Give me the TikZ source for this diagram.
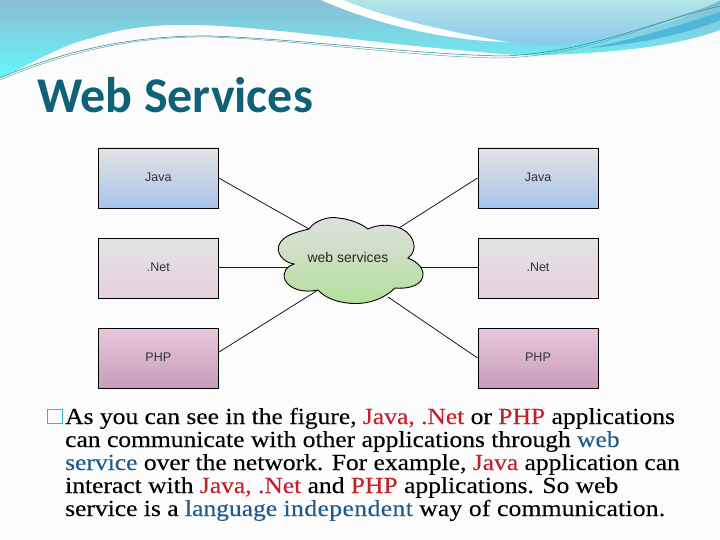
\documentclass[tikz,border=0pt]{standalone}
\usepackage{fontspec}
\usetikzlibrary{calc}
\setmainfont{Liberation Serif}
\newfontfamily\bodyfont[FakeStretch=1.11,FakeBold=0.2]{Liberation Serif}
\newfontfamily\titlefont{Carlito}
\newfontfamily\labelfont{Liberation Sans}
\definecolor{redt}{HTML}{C4202A}
\definecolor{bluet}{HTML}{1F5A8A}
\definecolor{titlec}{HTML}{0F6078}
\definecolor{edgec}{HTML}{1A1A1A}
\tikzset{
  boxbase/.style={draw=black,line width=0.9pt,minimum width=120pt,minimum height=60pt,inner sep=0pt,font=\labelfont\fontsize{12.5}{14}\selectfont,text=black!80},
  javabox/.style={boxbase,top color=gray!22,bottom color={rgb,255:red,168;green,196;blue,234}},
  netbox/.style={boxbase,top color={rgb,255:red,227;green,227;blue,228},bottom color={rgb,255:red,230;green,208;blue,223}},
  phpbox/.style={boxbase,top color={rgb,255:red,230;green,200;blue,218},bottom color={rgb,255:red,201;green,156;blue,187}},
  wire/.style={draw=edgec,line width=0.8pt},
  bodyline/.style={anchor=base west,inner sep=0pt,font=\bodyfont\fontsize{23}{23}\selectfont,text=black},
  thinline/.style={line width=0.5pt}
}
\newcommand{\rd}[1]{\textcolor{redt}{#1}}
\newcommand{\bl}[1]{\textcolor{bluet}{#1}}
\newcommand{\up}[1]{\raisebox{1pt}{#1}}
\begin{document}
\begin{tikzpicture}[x=1pt,y=-1pt]
\useasboundingbox (0,0) rectangle (720,540);
\fill[white!99!black] (0,0) rectangle (720,540);
% header swoosh
\shade[top color={rgb,255:red,139;green,189;blue,213},bottom color={rgb,255:red,102;green,248;blue,248}]
  (0,0) -- (0,78) .. controls (30,65) and (60,45) .. (92,38)
  .. controls (125,27) and (160,24) .. (200,25)
  .. controls (280,28) and (380,44) .. (459,50)
  .. controls (500,54) and (520,56) .. (542,55)
  .. controls (620,53) and (680,45) .. (720,30) -- (720,0) -- cycle;
\fill[white] (321,0) .. controls (370,22) and (440,40) .. (505,42)
  -- (542,45) .. controls (470,36) and (390,20) .. (344,0) -- cycle;
\shade[top color={rgb,255:red,178;green,230;blue,230},bottom color={rgb,255:red,136;green,198;blue,240}]
  (344,0) .. controls (390,20) and (470,36) .. (520,44)
  .. controls (570,48) and (650,38) .. (720,0) -- cycle;
\fill[color={rgb,255:red,80;green,182;blue,220}] (590,48) .. controls (640,38) and (690,22) .. (720,12)
  -- (720,20) .. controls (690,33) and (640,44) .. (590,48) -- cycle;
\draw[thinline,color={rgb,255:red,90;green,170;blue,175}] (0,80) .. controls (70,50) and (140,36) .. (211,37)
  .. controls (300,40) and (420,58) .. (505,58)
  .. controls (590,54) and (650,25) .. (720,3);
\draw[thinline,color={rgb,255:red,40;green,130;blue,150}] (0,78) .. controls (70,48) and (140,35) .. (211,36)
  .. controls (300,39) and (420,55) .. (505,56)
  .. controls (590,52) and (650,22) .. (720,6);
% title
\node[anchor=base west,inner sep=0pt,font=\titlefont\bfseries\fontsize{50}{50}\selectfont,text=titlec] (title) at (37,113) {Web Services};
% boxes
\node[javabox] (javaL) at (158.3,178) {\up{Java}};
\node[netbox]  (netL)  at (158.3,268) {\up{.Net}};
\node[phpbox]  (phpL)  at (158.3,358) {\up{PHP}};
\node[javabox] (javaR) at (538,178) {\up{Java}};
\node[netbox]  (netR)  at (538,268) {\up{.Net}};
\node[phpbox]  (phpR)  at (538,358) {\up{PHP}};
% connector contact points on the cloud
\coordinate (cJL) at (309,229);
\coordinate (cNL) at (290,267);
\coordinate (cPL) at (318,290);
\coordinate (cJR) at (399,228);
\coordinate (cNR) at (418,267);
\coordinate (cPR) at (388,297);
\coordinate (pL) at (218.3,352.5);
\draw[wire] (javaL.east) -- (cJL);
\draw[wire] (netL.east |- cNL) -- (cNL);
\draw[wire] (pL) -- (cPL);
\draw[wire] (javaR.west) -- (cJR);
\draw[wire] (netR.west |- cNR) -- (cNR);
\draw[wire] (phpR.west) -- (cPR);
% cloud
\draw[draw=black,line width=0.9pt,top color={rgb,255:red,224;green,224;blue,224},bottom color={rgb,255:red,178;green,224;blue,156}]
  (309,229) .. controls (315,220) and (330,216) .. (338,218)
  .. controls (350,219) and (362,224) .. (368,229)
  .. controls (378,224) and (392,224) .. (402,229)
  .. controls (414,235) and (419,250) .. (408,258)
  .. controls (418,262) and (426,270) .. (422,279)
  .. controls (418,287) and (405,289) .. (395,288)
  .. controls (385,298) and (370,304) .. (354,303.5)
  .. controls (338,303) and (325,298) .. (318,290)
  .. controls (305,293) and (290,290) .. (285,280)
  .. controls (282,272) and (287,266) .. (294,264)
  .. controls (282,262) and (276,252) .. (279,245)
  .. controls (283,235) and (297,232) .. (309,229) -- cycle;
\node[inner sep=0pt,font=\labelfont\fontsize{14}{15}\selectfont,text=black!85] (cloudlabel) at (348,257) {web services};
% body text
\draw[color={rgb,255:red,50;green,185;blue,195},line width=1.6pt] (47.5,409.5) rectangle (62.5,423.5);
\node[bodyline] (l1) at (65,424) {As you can see in the figure, \rd{Java, .Net} or \rd{PHP} applications};
\node[bodyline] (l2) at (65,447) {can communicate with other applications through \bl{web}};
\node[bodyline] (l3) at (65,470) {\bl{service} over the network. For example, \rd{Java} application can};
\node[bodyline] (l4) at (65,493) {interact with \rd{Java, .Net} and \rd{PHP} applications. So web};
\node[bodyline] (l5) at (65,516) {service is a \bl{language {\addfontfeature{LetterSpace=2}independent}} {\addfontfeature{LetterSpace=1}way of communication.}};
\end{tikzpicture}
\end{document}
